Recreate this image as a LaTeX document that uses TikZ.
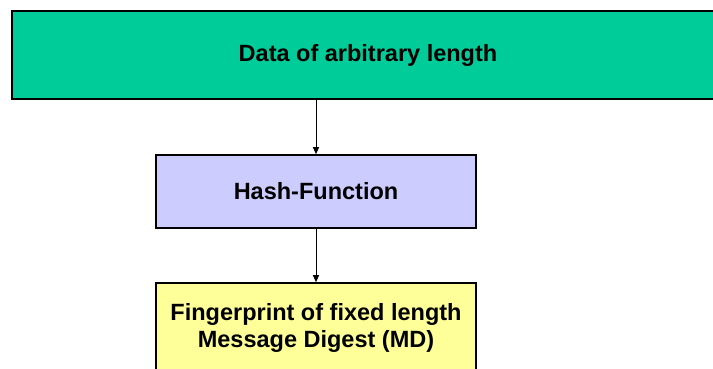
\documentclass[tikz,border=0pt]{standalone}
\usepackage{fontspec}
\setmainfont{Liberation Sans}
\usetikzlibrary{arrows.meta,positioning}
\definecolor{datagreen}{HTML}{00CC99}
\definecolor{hashblue}{HTML}{CCCCFF}
\definecolor{mdyellow}{HTML}{FFFF99}
\begin{document}
\begin{tikzpicture}[x=1pt,y=-1pt,
  box/.style={draw=black,line width=1.6pt,inner sep=0pt,align=center,
    font=\fontsize{23.5}{27}\selectfont\bfseries},
  flow/.style={-{Triangle[width=6pt,length=7pt]},line width=1pt}]
% Frame
\useasboundingbox (0,0) rectangle (713,368);
\clip (0,0) rectangle (713,368);

% Boxes
\node[box,fill=datagreen,minimum width=712pt,minimum height=88pt] (data) at (368,55) {Data of arbitrary length};
\node[box,fill=hashblue,minimum width=320pt,minimum height=73pt] (hash) at (316,191.5) {Hash-Function};
\node[box,fill=mdyellow,minimum width=320pt,minimum height=89pt] (md) at (316,327.5) {Fingerprint of fixed length\\Message Digest (MD)};

% Arrows
\coordinate (dataout) at (hash.north |- data.south);
\draw[flow] (dataout) -- (hash.north);
\draw[flow] (hash.south) -- (md.north);
\end{tikzpicture}
\end{document}
